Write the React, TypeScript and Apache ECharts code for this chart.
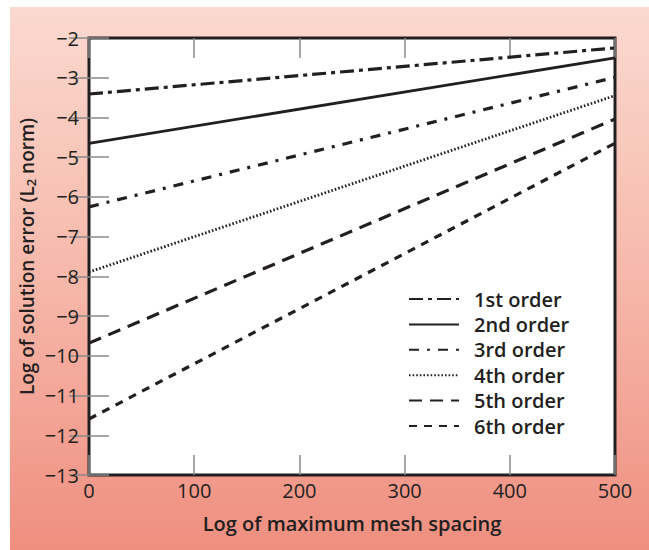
import React, { useEffect, useRef } from "react";
import * as echarts from "echarts";

const seriesNames = ["1st order", "2nd order", "3rd order", "4th order", "5th order", "6th order"];
const xEnds = [0, 500];
const startValues = [-3.41, -4.65, -6.25, -7.89, -9.68, -11.59];
const endValues = [-2.25, -2.5, -2.99, -3.45, -4.04, -4.65];
const xTicks = [0, 100, 200, 300, 400, 500];
const yTicks = [-13, -12, -11, -10, -9, -8, -7, -6, -5, -4, -3, -2];

const dashes: (number[] | "solid")[] = [
  [14, 5, 4, 5],
  "solid",
  [10, 8, 3, 8],
  [1.6, 2],
  [13, 8],
  [8, 7],
];
const widths = [3.2, 2.8, 3.2, 2.8, 3.2, 3.2];

const INK = "#231f20";
const FONT = "'Open Sans', 'Noto Sans', sans-serif";

export default function App() {
  const ref = useRef<HTMLDivElement>(null);
  useEffect(() => {
    if (!ref.current) return;
    const chart = echarts.init(ref.current, undefined, { renderer: "svg" });
    const series = seriesNames.map((name, i) => ({
      name,
      type: "line",
      symbol: "none",
      data: xEnds.map((x, j) => [x, j === 0 ? startValues[i] : endValues[i]]),
      lineStyle: { color: INK, width: widths[i], type: dashes[i] },
      itemStyle: { color: INK },
      z: 3,
    }));
    const tickStyle = { show: true, inside: true, length: 20, lineStyle: { color: "#8a8a8a", width: 1.5 } };
    chart.setOption({
      animation: false,
      textStyle: { fontFamily: FONT },
      grid: {
        left: 89,
        right: 34,
        top: 38,
        bottom: 75,
        show: true,
        backgroundColor: "#ffffff",
        borderColor: INK,
        borderWidth: 3,
      },
      legend: {
        orient: "vertical",
        left: 408,
        top: 287,
        padding: 0,
        itemWidth: 50,
        itemHeight: 14,
        itemGap: 1.4,
        data: seriesNames,
        itemStyle: { color: "transparent", borderColor: "transparent", borderWidth: 0 },
        textStyle: {
          color: INK,
          fontSize: 20,
          fontWeight: 600,
          fontFamily: FONT,
          lineHeight: 24,
          padding: [0, 0, 0, 10],
        },
      },
      xAxis: [
        {
          type: "value",
          min: xTicks[0],
          max: xTicks[xTicks.length - 1],
          interval: 100,
          position: "bottom",
          name: "Log of maximum mesh spacing",
          nameLocation: "middle",
          nameGap: 38,
          nameMoveOverlap: false,
          nameTextStyle: { color: INK, fontSize: 20, fontWeight: 600, fontFamily: FONT },
          axisLine: { show: false },
          axisTick: tickStyle,
          splitLine: { show: false },
          axisLabel: { color: INK, fontSize: 20, fontWeight: 500, margin: 5, fontFamily: FONT },
        },
        {
          type: "value",
          min: xTicks[0],
          max: xTicks[xTicks.length - 1],
          interval: 100,
          position: "top",
          axisLine: { show: false },
          axisTick: tickStyle,
          splitLine: { show: false },
          axisLabel: { show: false },
        },
      ],
      yAxis: [
        {
          type: "value",
          min: yTicks[0],
          max: yTicks[yTicks.length - 1],
          interval: 1,
          position: "left",
          name: "Log of solution error (L{sub|2} norm)",
          nameLocation: "middle",
          nameGap: 52,
          nameMoveOverlap: false,
          nameRotate: 90,
          nameTextStyle: {
            color: INK,
            fontSize: 19,
            fontWeight: 600,
            fontFamily: FONT,
            rich: {
              sub: { fontSize: 13, fontWeight: 600, color: INK, fontFamily: FONT, verticalAlign: "bottom", padding: [8, 0, 0, 0] },
            },
          },
          axisLine: { show: false },
          axisTick: tickStyle,
          splitLine: { show: false },
          axisLabel: {
            color: INK,
            fontSize: 20,
            fontWeight: 500,
            margin: 10,
            fontFamily: FONT,
            formatter: (v: number) => (v < 0 ? "\u2212" + Math.abs(v) : String(v)),
          },
        },
        {
          type: "value",
          min: yTicks[0],
          max: yTicks[yTicks.length - 1],
          interval: 1,
          position: "right",
          axisLine: { show: false },
          axisTick: tickStyle,
          splitLine: { show: false },
          axisLabel: { show: false },
        },
      ],
      series,
    });
    return () => chart.dispose();
  }, []);
  return (
    <div style={{ position: "absolute", left: 0, top: 0, width: 649, height: 550, background: "#ffffff" }}>
      <div
        style={{
          position: "absolute",
          left: 10,
          top: 7,
          right: 0,
          bottom: 0,
          background: "linear-gradient(to bottom, #fbd9d0 0%, #f6b8aa 50%, #ef8f80 100%)",
        }}
      />
      <div ref={ref} style={{ position: "absolute", left: 0, top: 0, width: 649, height: 550 }} />
    </div>
  );
}
